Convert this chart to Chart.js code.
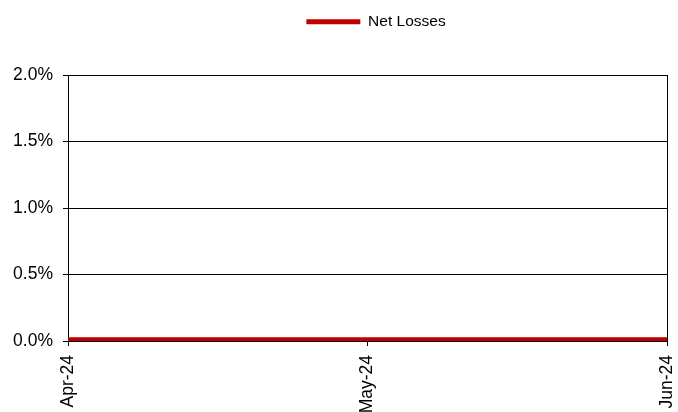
<!DOCTYPE html>
<html>
<head>
<meta charset="utf-8">
<script src="https://cdn.jsdelivr.net/npm/chart.js@4"></script>
<style>
  html, body { margin: 0; padding: 0; background: #fff; }
  #wrap { width: 678px; height: 412px; }
</style>
</head>
<body>
<div id="wrap"><canvas id="chart"></canvas></div>
<script>
// data
const months = ['Apr-24', 'May-24', 'Jun-24'];
const netLosses = [0.01, 0.01, 0.01]; // percent
const yTicks = [0, 0.5, 1.0, 1.5, 2.0];

// keep the legend block tall enough to push the plot down,
// and nudge it right like in the original
const legendHeight = {
  id: 'legendHeight',
  beforeInit(chart) {
    const fit = chart.legend.fit;
    chart.legend.fit = function () {
      fit.bind(chart.legend)();
      this.height = 75;
    };
  },
  afterLayout(chart) {
    chart.legend.left += 37;
    chart.legend.right += 37;
  }
};

new Chart(document.getElementById('chart').getContext('2d'), {
  type: 'line',
  data: {
    labels: months,
    datasets: [{
      label: 'Net Losses',
      data: netLosses,
      borderColor: '#C00000',
      backgroundColor: '#C00000',
      borderWidth: 5,
      pointRadius: 0,
      tension: 0
    }]
  },
  options: {
    responsive: true,
    maintainAspectRatio: false,
    animation: false,
    layout: { padding: 0 },
    plugins: {
      tooltip: { enabled: false },
      legend: {
        position: 'top',
        labels: {
          color: '#000',
          font: { family: 'Liberation Sans, Arial', size: 15.5 },
          boxWidth: 54,
          boxHeight: 5,
          padding: 14,
          generateLabels: (chart) => chart.data.datasets.map((ds, i) => ({
            text: ds.label,
            fillStyle: ds.borderColor,
            strokeStyle: ds.borderColor,
            lineWidth: 0,
            datasetIndex: i,
            fontColor: '#000'
          }))
        }
      }
    },
    scales: {
      x: {
        offset: false,
        border: { display: true, color: '#000', width: 1 },
        grid: {
          drawOnChartArea: true,
          drawTicks: true,
          tickLength: 5,
          tickColor: '#000',
          color: (c) => c.index === months.length - 1 ? '#000' : 'rgba(0,0,0,0)'
        },
        ticks: {
          color: '#000',
          font: { family: 'Liberation Sans, Arial', size: 17.5 },
          maxRotation: 90,
          minRotation: 90,
          padding: 9
        },
        afterFit(scale) {
          scale.height = 71;
          scale.paddingRight = 11;
          scale.paddingLeft = 0;
        }
      },
      y: {
        min: 0,
        max: 2.0,
        afterBuildTicks(scale) { scale.ticks = yTicks.map(v => ({ value: v })); },
        border: { display: true, color: '#000', width: 1 },
        grid: {
          color: '#000',
          tickColor: '#000',
          tickLength: 5
        },
        ticks: {
          color: '#000',
          font: { family: 'Liberation Sans, Arial', size: 17.5 },
          padding: 10,
          callback: (v) => Number(v).toFixed(1) + '%'
        },
        afterFit(scale) {
          scale.width = 68;
          scale.paddingTop = 0;
          scale.paddingBottom = 0;
        }
      }
    }
  },
  plugins: [legendHeight]
});
</script>
</body>
</html>
